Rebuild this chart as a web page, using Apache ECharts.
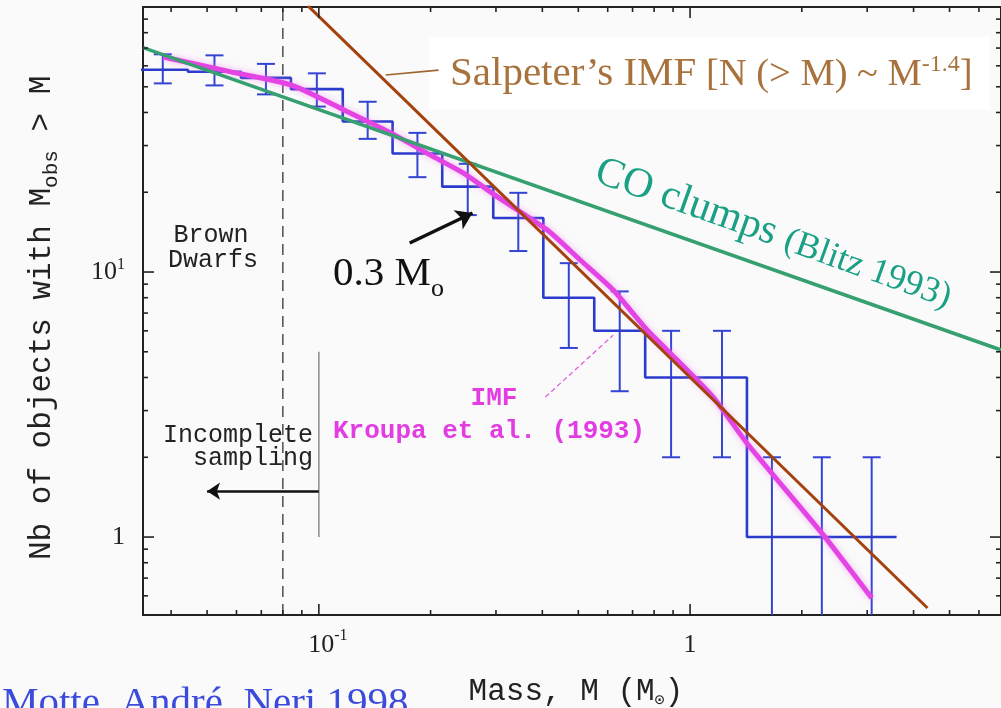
<!DOCTYPE html>
<html><head><meta charset="utf-8">
<script src="https://cdn.jsdelivr.net/npm/echarts@6/dist/echarts.min.js"></script>
<style>html,body{margin:0;padding:0;background:#fafafa;}#c{width:1001px;height:708px;}</style>
</head><body><div id="c"></div>
<script>
// ---------------- data ----------------
const binEdges = [0.0325, 0.0444, 0.0617, 0.0841, 0.116, 0.158, 0.215, 0.295, 0.4025, 0.552, 0.757, 1.044, 1.423, 1.94, 2.643, 3.6];
const counts   = [58, 57, 54, 49, 37, 28, 21, 16, 8, 6, 4, 4, 1, 1, 1];
const errHigh  = [66.3, 65.7, 61, 56.2, 43.9, 33.5, 25.6, 19.9, 10.8, 8.45, 6, 6, 2, 2, 2];
const errLow   = [51.5, 50.6, 46.8, 42.1, 31.8, 22.8, 16.4, 12.0, 5.17, 3.55, 2, 2, 0.3, 0.3, 0.3];
const kroupaM  = [0.0381, 0.058, 0.0841, 0.1168, 0.1562, 0.2, 0.2453, 0.3029, 0.4126, 0.506, 0.621, 0.766, 0.94, 1.153, 1.423, 2.264, 3.085];
const kroupaN  = [64.8, 56.9, 50.8, 40.9, 33.5, 27.6, 23.6, 19.2, 14.4, 11.1, 8.55, 6.04, 4.54, 3.38, 2.26, 1.035, 0.589];
const salpeterM = [0.0935, 4.36];
const salpeterN = [101, 0.54];
const coM = [0.0336, 6.88];
const coN = [70.2, 5.08];
const xMajorTicks = [0.1, 1];
const xMinorTicks = [0.04, 0.05, 0.06, 0.07, 0.08, 0.09, 0.2, 0.3, 0.4, 0.5, 0.6, 0.7, 0.8, 0.9, 2, 3, 4, 5, 6];
const yMajorTicks = [1, 10];
const yMinorTicks = [0.6, 0.7, 0.8, 0.9, 2, 3, 4, 5, 6, 7, 8, 9, 20, 30, 40, 50, 60, 70, 80, 90];
const xTickLabels = [['10', '-1'], ['1', '']];
const yTickLabels = [['1', ''], ['10', '1']];

// ---------------- chart ----------------
const X_MIN = 0.0336, X_MAX = 6.88, Y_MIN = 0.508, Y_MAX = 100;
const SERIF = '"Liberation Serif", "Times New Roman", serif';
const MONO = '"Liberation Mono", "Courier New", monospace';

const stepPts = [];
counts.forEach((c, i) => { stepPts.push([binEdges[i], c]); stepPts.push([binEdges[i + 1], c]); });
const errData = counts.map((c, i) => [Math.sqrt(binEdges[i] * binEdges[i + 1]), errLow[i], errHigh[i]]);

const chart = echarts.init(document.getElementById('c'), null, { renderer: 'canvas' });
chart.setOption({
  animation: false,
  backgroundColor: '#fafafa',
  grid: { left: 143, right: 0, top: 7, bottom: 93, show: true, borderColor: '#222', borderWidth: 2,
          backgroundColor: 'transparent', containLabel: false, outerBoundsMode: 'none' },
  xAxis: { type: 'log', logBase: 10, min: X_MIN, max: X_MAX, axisLine: { show: false },
           axisTick: { show: false }, axisLabel: { show: false }, splitLine: { show: false } },
  yAxis: { type: 'log', logBase: 10, min: Y_MIN, max: Y_MAX, axisLine: { show: false },
           axisTick: { show: false }, axisLabel: { show: false }, splitLine: { show: false } },
  series: [
    { type: 'line', data: [[0.08, Y_MIN], [0.08, Y_MAX]], symbol: 'none', silent: true, z: 1,
      lineStyle: { color: '#333', width: 1.3, type: [11, 7] } },
    { type: 'line', data: [[0.1, 1], [0.1, 5]], symbol: 'none', silent: true, z: 1,
      lineStyle: { color: '#8a8a8a', width: 1.5 } },
    { type: 'lines', coordinateSystem: 'cartesian2d', z: 2, silent: true,
      symbol: ['none', 'arrow'], symbolSize: 13,
      lineStyle: { color: '#111', width: 2.5, opacity: 1, curveness: 0 },
      data: [{ coords: [[0.1, 1.49], [0.05, 1.49]] }] },
    { type: 'line', data: stepPts, symbol: 'none', silent: true, z: 3,
      lineStyle: { color: '#2b3bcc', width: 2.6 } },
    { type: 'custom', data: errData, z: 3, silent: true, encode: { x: 0, y: [1, 2] },
      renderItem: function (params, api) {
        const cs = params.coordSys;
        const x = api.value(0);
        const lo = api.coord([x, api.value(1)]);
        const hi = api.coord([x, api.value(2)]);
        const bottom = cs.y + cs.height;
        const loY = Math.min(lo[1], bottom);
        const st = { stroke: '#3444d2', lineWidth: 2 };
        const ch = [
          { type: 'line', shape: { x1: lo[0], y1: loY, x2: hi[0], y2: hi[1] }, style: st },
          { type: 'line', shape: { x1: hi[0] - 9, y1: hi[1], x2: hi[0] + 9, y2: hi[1] }, style: st }
        ];
        if (lo[1] <= bottom) ch.push({ type: 'line', shape: { x1: lo[0] - 9, y1: lo[1], x2: lo[0] + 9, y2: lo[1] }, style: st });
        return { type: 'group', children: ch };
      } },
    { type: 'line', data: kroupaM.map((m, i) => [m, kroupaN[i]]), symbol: 'none', smooth: 0.2, silent: true, z: 4,
      lineStyle: { color: '#e444e4', width: 5, shadowColor: 'rgba(240,120,240,0.55)', shadowBlur: 6 } },
    { type: 'lines', coordinateSystem: 'cartesian2d', z: 4, silent: true,
      symbol: ['none', 'none'],
      lineStyle: { color: '#e060e0', width: 1.3, type: [5, 3], opacity: 1, curveness: 0 },
      data: [{ coords: [[0.4075, 3.375], [0.621, 5.78]] }] },
    { type: 'line', data: coM.map((m, i) => [m, coN[i]]), symbol: 'none', silent: true, z: 5,
      lineStyle: { color: '#36a070', width: 3.5 } },
    { type: 'line', data: salpeterM.map((m, i) => [m, salpeterN[i]]), symbol: 'none', silent: true, z: 6,
      lineStyle: { color: '#a4420e', width: 3 } },
    { type: 'lines', coordinateSystem: 'cartesian2d', z: 6, silent: true, symbol: ['none', 'none'],
      lineStyle: { color: '#a0652f', width: 1.6, opacity: 1, curveness: 0 },
      data: [{ coords: [[0.1514, 55.4], [0.2102, 57.8]] }] },
    { type: 'lines', coordinateSystem: 'cartesian2d', z: 7, silent: true,
      symbol: ['none', 'arrow'], symbolSize: 16,
      lineStyle: { color: '#111', width: 3.5, opacity: 1, curveness: 0 },
      data: [{ coords: [[0.1757, 12.87], [0.2594, 16.7]] }] }
  ]
});

// ---------------- ticks, labels, annotations ----------------
const mctx = document.createElement('canvas').getContext('2d');
function fontOf(p) { return (p.weight || 'normal') + ' ' + p.size + 'px ' + p.fam; }
function tw(p) { mctx.font = fontOf(p); return mctx.measureText(p.t).width; }
function kOf(p) { return p.fam === MONO ? 0.2665 : 0.3375; }
function run(x, base, parts, align, z) {
  const ws = parts.map(tw);
  const total = ws.reduce((a, b) => a + b, 0);
  let sx = align === 'right' ? x - total : align === 'center' ? x - total / 2 : x;
  const out = [];
  parts.forEach((p, i) => {
    out.push({ type: 'text', x: sx, y: base + (p.dy || 0) - kOf(p) * p.size, z: z || 100, silent: true,
      style: { text: p.t, font: fontOf(p), fill: p.color || '#222', align: 'left', verticalAlign: 'middle' } });
    sx += ws[i];
  });
  return out;
}
function px(x, y) { return chart.convertToPixel({ gridIndex: 0 }, [x, y]); }

const g = [];
const bl = px(X_MIN, Y_MIN), tr = px(X_MAX, Y_MAX);
const L = bl[0], B = bl[1], R = tr[0], T = tr[1];
const tk = { stroke: '#222', lineWidth: 1.6 };
function tick(x1, y1, x2, y2) { g.push({ type: 'line', shape: { x1, y1, x2, y2 }, style: tk, z: 50, silent: true }); }
xMajorTicks.forEach(v => { const p = px(v, Y_MIN)[0]; tick(p, B, p, B - 11); tick(p, T, p, T + 11); });
xMinorTicks.forEach(v => { const p = px(v, Y_MIN)[0]; tick(p, B, p, B - 5); tick(p, T, p, T + 5); });
yMajorTicks.forEach(v => { const q = px(X_MIN, v)[1]; tick(L, q, L + 11, q); tick(R, q, R - 11, q); });
yMinorTicks.forEach(v => { const q = px(X_MIN, v)[1]; tick(L, q, L + 5, q); tick(R, q, R - 5, q); });

// tick labels
xMajorTicks.forEach((v, i) => {
  const p = px(v, Y_MIN)[0];
  const lab = xTickLabels[i];
  const parts = [{ t: lab[0], size: 26, fam: SERIF }];
  if (lab[1]) parts.push({ t: lab[1], size: 16, fam: SERIF, dy: -13 });
  const base = B + 39;
  if (lab[1]) g.push(...run(p + 9, base, parts, 'center'));
  else g.push(...run(p, base, parts, 'center'));
});
yMajorTicks.forEach((v, i) => {
  const q = px(X_MIN, v)[1];
  const lab = yTickLabels[i];
  const parts = [{ t: lab[0], size: 26, fam: SERIF }];
  if (lab[1]) parts.push({ t: lab[1], size: 16, fam: SERIF, dy: -11 });
  g.push(...run(L - 18, q + 9, parts, 'right'));
});

// axis titles
g.push(...run(576, 700, [
  { t: 'Mass, M (M', size: 31, fam: MONO },
  { t: '\u2299', size: 17, fam: MONO, dy: 5 },
  { t: ')', size: 31, fam: MONO }
], 'center'));
g.push({ type: 'group', x: 50, y: 560, rotation: Math.PI / 2, silent: true,
  children: run(0, 0, [
    { t: 'Nb of objects with M', size: 31, fam: MONO },
    { t: 'obs', size: 21, fam: MONO, dy: 7 },
    { t: ' > M', size: 31, fam: MONO }
  ], 'left') });

// annotations
g.push(...run(211, 242, [{ t: 'Brown', size: 25, fam: MONO }], 'center'));
g.push(...run(213, 267, [{ t: 'Dwarfs', size: 25, fam: MONO }], 'center'));
g.push(...run(313, 442, [{ t: 'Incomplete', size: 25, fam: MONO }], 'right'));
g.push(...run(313, 465, [{ t: 'sampling', size: 25, fam: MONO }], 'right'));
g.push(...run(494, 405, [{ t: 'IMF', size: 26, fam: MONO, weight: 'bold', color: '#e23ce2' }], 'center'));
g.push(...run(333, 438, [{ t: 'Kroupa et al. (1993)', size: 26, fam: MONO, weight: 'bold', color: '#e23ce2' }], 'left'));

g.push({ type: 'rect', shape: { x: 429, y: 37, width: 561, height: 73 }, style: { fill: '#ffffff' }, z: 1, silent: true });
const brownC = '#a8723c';
g.push(...run(450, 88, [
  { t: 'Salpeter\u2019s IMF', size: 41, fam: SERIF, color: brownC },
  { t: ' [N (> M) ~ M', size: 38.5, fam: SERIF, color: brownC },
  { t: '-1.4', size: 24, fam: SERIF, color: brownC, dy: -15 },
  { t: ']', size: 38.5, fam: SERIF, color: brownC }
], 'left'));

g.push(...run(333, 288, [
  { t: '0.3 M', size: 41, fam: SERIF, color: '#111' },
  { t: 'o', size: 26, fam: SERIF, color: '#111', dy: 10 }
], 'left'));

g.push({ type: 'group', x: 592, y: 184, rotation: -19.6 * Math.PI / 180, silent: true,
  children: run(0, 0, [
    { t: 'CO clumps ', size: 42, fam: SERIF, color: '#1aa084' },
    { t: '(Blitz 1993)', size: 36, fam: SERIF, color: '#1aa084' }
  ], 'left') });

g.push(...run(2, 718, [{ t: 'Motte, Andr\u00e9, Neri 1998', size: 41, fam: SERIF, color: '#3b4bdc' }], 'left'));

chart.setOption({ graphic: { elements: g } });
</script>
</body></html>
